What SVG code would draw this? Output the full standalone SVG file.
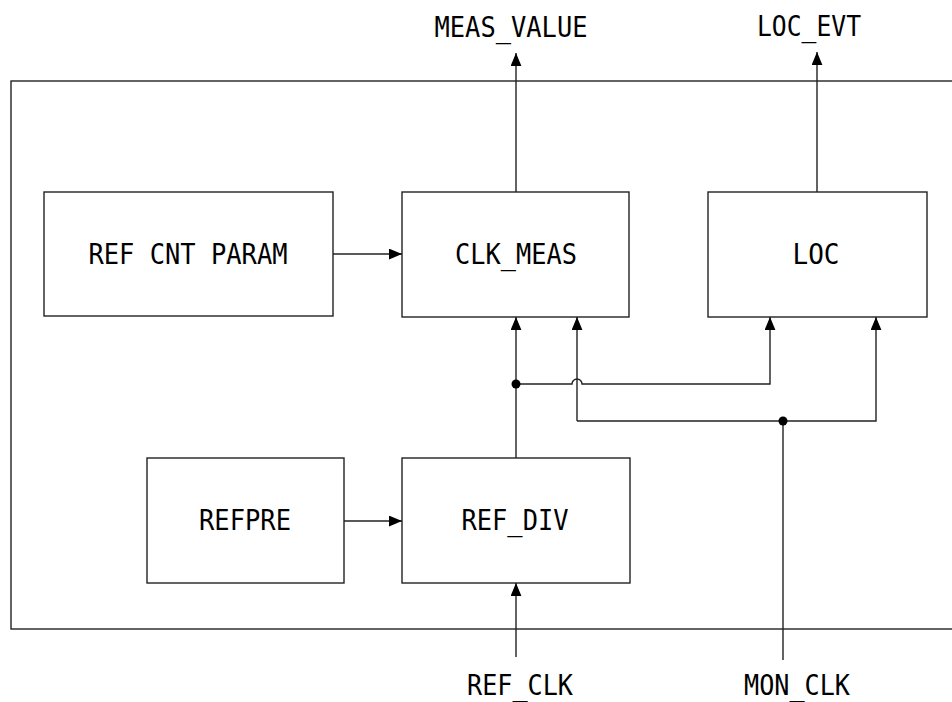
<svg xmlns="http://www.w3.org/2000/svg" width="952" height="702" viewBox="0 0 952 702">
<style>
.box{fill:#fff;stroke:#222;stroke-width:1.4}
.ln{fill:none;stroke:#222;stroke-width:1.4}
.t{font-family:"DejaVu Sans Mono","Liberation Mono",monospace;font-size:28px;fill:#000;text-anchor:middle}
.dot{fill:#000}
</style>
<defs>
<marker id="ah" viewBox="0 0 12 10" refX="12" refY="5" markerWidth="13" markerHeight="11" markerUnits="userSpaceOnUse" orient="auto">
<path d="M0,0 L12,5 L0,10 Z" fill="#000"/>
</marker>
</defs>
<rect x="11" y="81" width="960" height="548" fill="none" stroke="#222" stroke-width="1.4"/>
<g id="ref_cnt_param"><rect class="box" x="44" y="192" width="289" height="124"/><text class="t" x="188" y="264" textLength="199" lengthAdjust="spacingAndGlyphs">REF CNT PARAM</text></g>
<g id="clk_meas"><rect class="box" x="402" y="192" width="227" height="125"/><text class="t" x="516" y="264" textLength="122" lengthAdjust="spacingAndGlyphs">CLK_MEAS</text></g>
<g id="loc"><rect class="box" x="708" y="192" width="219" height="125"/><text class="t" x="816" y="264" textLength="47" lengthAdjust="spacingAndGlyphs">LOC</text></g>
<g id="refpre"><rect class="box" x="147" y="458" width="197" height="125"/><text class="t" x="245" y="530" textLength="92" lengthAdjust="spacingAndGlyphs">REFPRE</text></g>
<g id="ref_div"><rect class="box" x="402" y="458" width="228" height="125"/><text class="t" x="515" y="530" textLength="107" lengthAdjust="spacingAndGlyphs">REF_DIV</text></g>
<g id="labels">
<text class="t" x="511" y="37" textLength="153" lengthAdjust="spacingAndGlyphs">MEAS_VALUE</text>
<text class="t" x="809" y="36" textLength="104" lengthAdjust="spacingAndGlyphs">LOC_EVT</text>
<text class="t" x="520" y="695" textLength="106" lengthAdjust="spacingAndGlyphs">REF_CLK</text>
<text class="t" x="797" y="695" textLength="106" lengthAdjust="spacingAndGlyphs">MON_CLK</text>
</g>
<g id="connectors">
<path class="ln" d="M516,192 V53" marker-end="url(#ah)"/>
<path class="ln" d="M817,192 V52" marker-end="url(#ah)"/>
<path class="ln" d="M333,254 H402" marker-end="url(#ah)"/>
<path class="ln" d="M344,521 H402" marker-end="url(#ah)"/>
<path class="ln" d="M516,657 V583" marker-end="url(#ah)"/>
<path class="ln" d="M516,458 V317" marker-end="url(#ah)"/>
<path class="ln" d="M516,384 H572 A5,5 0 0 1 582,384 H770 V317" marker-end="url(#ah)"/>
<path class="ln" d="M577,421 H876 V317" marker-end="url(#ah)"/>
<path class="ln" d="M577,421 V317" marker-end="url(#ah)"/>
<path class="ln" d="M783,660 V421"/>
<circle class="dot" cx="516" cy="384" r="4.5"/>
<circle class="dot" cx="783" cy="421" r="4.5"/>
</g>
</svg>
